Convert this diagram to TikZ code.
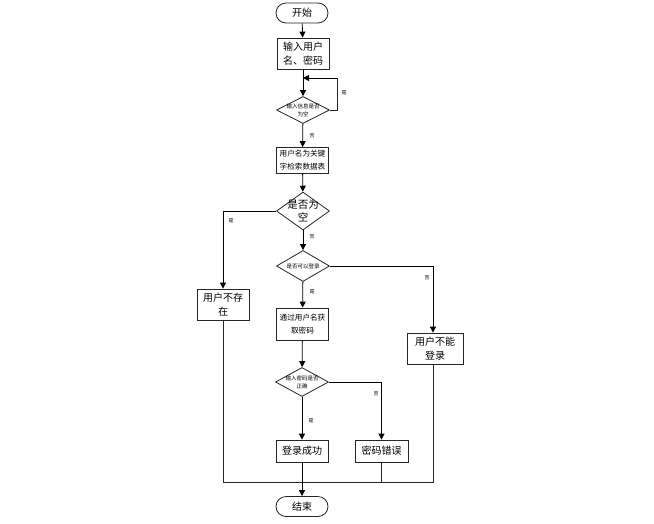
\documentclass[tikz,border=0pt]{standalone}
\usepackage{fontspec}
\newfontfamily\cjk{Noto Sans CJK SC}
\usetikzlibrary{shapes.geometric,arrows.meta}
\begin{document}
\begin{tikzpicture}[x=1pt,y=-1pt,
  every node/.style={font=\cjk},
  proc/.style={draw=black!85,line width=0.8pt,minimum width=52pt,minimum height=31pt,inner sep=1pt,align=center,font=\cjk\fontsize{10}{14}\selectfont},
  procs/.style={proc,font=\cjk\fontsize{7.6}{13}\selectfont},
  term/.style={draw=black!85,line width=0.8pt,rounded corners=10pt,minimum width=52pt,minimum height=20pt,inner sep=1pt,font=\cjk\fontsize{10}{12}\selectfont},
  dec/.style={draw=black!85,line width=0.8pt,diamond,aspect=2,inner sep=0pt,minimum width=53pt,minimum height=30pt},
  dectext/.style={inner sep=0pt,align=center,font=\cjk\fontsize{5.5}{8}\selectfont},
  lab/.style={font=\cjk\fontsize{5}{6}\selectfont,inner sep=1pt},
  arr/.style={draw=black,line width=0.8pt,-{Triangle[width=6pt,length=6pt]}},
  ln/.style={draw=black!85,line width=0.8pt}]
\useasboundingbox (0,0) rectangle (654,523);
\node[term] (start) at (302,13) {开始};
\node[proc] (input) at (303,53.5) {输入用户\\名、密码};
\node[dec,minimum height=27pt] (d1) at (303,110) {};
\node[dectext] (t1) at (d1) {输入信息是否\\为空};
\node[procs,minimum height=26pt] (search) at (302.5,160.5) {用户名为关键\\字检索数据表};
\node[dec,minimum height=38pt] (d2) at (303,211) {};
\node[dectext,font=\cjk\fontsize{10.5}{13}\selectfont] (t2) at (d2) {是否为\\空};
\node[dec,minimum height=31pt] (d3) at (303,266) {};
\node[dectext] (t3) at (d3) {是否可以登录};
\node[procs,minimum height=32pt] (getpw) at (302.5,324) {通过用户名获\\取密码};
\node[dec,minimum height=29pt] (d4) at (302,382) {};
\node[dectext] (t4) at (d4) {输入密码是否\\正确};
\node[proc] (nouser) at (223,304.5) {用户不存\\在};
\node[proc,minimum width=56pt] (nologin) at (435,348.5) {用户不能\\登录};
\node[proc,minimum height=22pt] (ok) at (302,451) {登录成功};
\node[proc,minimum width=53pt,minimum height=22pt] (bad) at (381.5,451) {密码错误};
\node[term] (end) at (302,506.5) {结束};
\coordinate (loopA) at (337,110);
\coordinate (loopB) at (337,78);
\coordinate (loopC) at (303,78);
\coordinate (bl) at (223,482);
\coordinate (br) at (433,482);
\draw[arr] (start) -- (input);
\draw[arr] (input) -- (d1);
\draw[ln] (d1.east) -- (loopA) -- (loopB);
\draw[arr] (loopB) -- (loopC);
\node[lab] (l1) at (344,93) {是};
\draw[arr] (d1) -- (search);
\node[lab] (l2) at (312,136) {否};
\draw[arr] (search) -- (d2);
\draw[arr] (d2.west) -| (nouser.north);
\node[lab] (l3) at (231,221) {是};
\draw[arr] (d2) -- (d3);
\node[lab] (l4) at (312,237) {否};
\draw[arr] (d3.east) -| (nologin.north -| br);
\node[lab] (l5) at (427,278) {否};
\draw[arr] (d3) -- (getpw);
\node[lab] (l6) at (312,292) {是};
\draw[arr] (getpw) -- (d4);
\draw[arr] (d4) -- (ok);
\node[lab] (l7) at (311,421) {是};
\draw[arr] (d4.east) -| (bad.north);
\node[lab] (l8) at (376,394) {否};
\draw[ln] (nouser.south) -- (bl) -- (br) -- (nologin.south -| br);
\draw[ln] (bad.south) -- (bad.south |- bl);
\draw[arr] (ok.south) -- (end.north);
\end{tikzpicture}
\end{document}
